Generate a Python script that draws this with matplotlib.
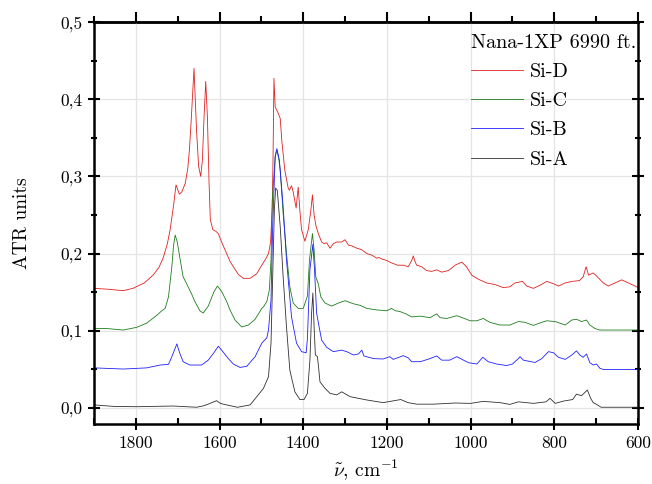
import matplotlib
matplotlib.use("Agg")
import matplotlib.pyplot as plt

plt.rcParams['font.family'] = 'cmr10'
plt.rcParams['mathtext.fontset'] = 'cm'
plt.rcParams['axes.unicode_minus'] = False
plt.rcParams['axes.formatter.use_mathtext'] = True

# Si-D (red)
wn_d = [1900, 1870, 1830, 1807, 1780, 1759, 1745, 1735, 1725, 1718, 1710, 1704, 1696, 1690, 1682,
        1676, 1672, 1668, 1665, 1661, 1658, 1655, 1650, 1645, 1641, 1637, 1633, 1629, 1625, 1622,
        1616, 1609, 1603, 1595, 1587, 1575, 1567, 1555, 1543, 1527, 1511, 1499, 1491, 1483, 1478,
        1474, 1472, 1470, 1467, 1460, 1455, 1451, 1444, 1436, 1433, 1428, 1424, 1417, 1412, 1408,
        1404, 1396, 1388, 1382, 1378, 1374, 1370, 1364, 1356, 1350, 1344, 1336, 1328, 1320, 1308,
        1300, 1292, 1284, 1272, 1260, 1248, 1236, 1224, 1220, 1212, 1200, 1189, 1175, 1161, 1149,
        1140, 1137, 1133, 1129, 1117, 1105, 1093, 1081, 1069, 1053, 1037, 1021, 1010, 997, 982,
        962, 942, 922, 906, 894, 876, 866, 850, 834, 818, 802, 790, 774, 758, 740,
        731, 724, 718, 707, 699, 683, 671, 655, 639, 623, 603, 600]
si_d = [0.155, 0.154, 0.152, 0.155, 0.162, 0.172, 0.182, 0.194, 0.212, 0.231, 0.262, 0.289, 0.277, 0.280, 0.291,
        0.310, 0.334, 0.370, 0.400, 0.440, 0.400, 0.360, 0.313, 0.300, 0.321, 0.377, 0.423, 0.377, 0.291, 0.244,
        0.231, 0.229, 0.226, 0.215, 0.205, 0.190, 0.183, 0.173, 0.168, 0.168, 0.174, 0.185, 0.192, 0.200, 0.215,
        0.260, 0.330, 0.427, 0.390, 0.382, 0.375, 0.345, 0.308, 0.285, 0.282, 0.288, 0.280, 0.259, 0.286, 0.256,
        0.231, 0.216, 0.231, 0.255, 0.276, 0.250, 0.237, 0.226, 0.215, 0.213, 0.214, 0.207, 0.213, 0.215, 0.215,
        0.218, 0.211, 0.210, 0.207, 0.205, 0.200, 0.198, 0.194, 0.195, 0.193, 0.191, 0.188, 0.185, 0.185, 0.183,
        0.192, 0.197, 0.190, 0.185, 0.183, 0.178, 0.177, 0.179, 0.176, 0.178, 0.185, 0.189, 0.183, 0.172, 0.167,
        0.162, 0.160, 0.156, 0.157, 0.162, 0.164, 0.158, 0.155, 0.159, 0.164, 0.161, 0.158, 0.162, 0.164, 0.165,
        0.170, 0.183, 0.172, 0.175, 0.171, 0.162, 0.158, 0.162, 0.166, 0.162, 0.157, 0.156]

# Si-C (green)
wn_c = [1900, 1870, 1830, 1798, 1774, 1750, 1738, 1730, 1722, 1714, 1710, 1706, 1701, 1694, 1687,
        1675, 1667, 1659, 1647, 1639, 1627, 1613, 1605, 1595, 1583, 1575, 1563, 1547, 1531, 1515,
        1499, 1495, 1487, 1481, 1477, 1474, 1467, 1463, 1458, 1455, 1448, 1440, 1432, 1424, 1412,
        1400, 1390, 1385, 1378, 1374, 1370, 1364, 1358, 1348, 1332, 1316, 1300, 1280, 1264, 1248,
        1224, 1200, 1189, 1180, 1169, 1155, 1141, 1120, 1097, 1081, 1073, 1057, 1033, 1015, 1001,
        985, 970, 954, 930, 906, 886, 870, 850, 830, 818, 798, 774, 758, 747, 735,
        723, 715, 703, 691, 600]
si_c = [0.103, 0.103, 0.101, 0.1045, 0.110, 0.120, 0.126, 0.129, 0.144, 0.183, 0.210, 0.224, 0.215, 0.192, 0.170,
        0.157, 0.148, 0.138, 0.126, 0.123, 0.132, 0.151, 0.158, 0.151, 0.138, 0.127, 0.114, 0.105, 0.1075, 0.115,
        0.129, 0.131, 0.138, 0.153, 0.192, 0.269, 0.326, 0.334, 0.321, 0.308, 0.252, 0.200, 0.157, 0.136, 0.129,
        0.129, 0.145, 0.192, 0.226, 0.205, 0.170, 0.161, 0.144, 0.136, 0.132, 0.136, 0.139, 0.135, 0.133, 0.129,
        0.127, 0.126, 0.129, 0.126, 0.125, 0.122, 0.118, 0.119, 0.117, 0.122, 0.117, 0.116, 0.1196, 0.116, 0.113,
        0.113, 0.116, 0.111, 0.1075, 0.1075, 0.112, 0.111, 0.107, 0.111, 0.113, 0.112, 0.1075, 0.114, 0.115, 0.112,
        0.114, 0.1075, 0.103, 0.101, 0.101]

# Si-B (blue)
wn_b = [1900, 1830, 1774, 1742, 1722, 1714, 1702, 1695, 1687, 1671, 1643, 1627, 1613, 1603, 1595,
        1579, 1567, 1551, 1535, 1515, 1499, 1487, 1483, 1477, 1473, 1467, 1463, 1457, 1448, 1440,
        1428, 1416, 1404, 1393, 1390, 1384, 1377, 1373, 1368, 1362, 1356, 1344, 1328, 1308, 1296,
        1280, 1268, 1260, 1255, 1232, 1209, 1193, 1185, 1161, 1149, 1141, 1120, 1097, 1081, 1069,
        1050, 1033, 1017, 1005, 985, 971, 958, 938, 914, 900, 886, 882, 874, 846, 830,
        814, 802, 790, 774, 758, 747, 739, 731, 723, 715, 707, 699, 691, 683, 600]
si_b = [0.052, 0.0505, 0.052, 0.0557, 0.0565, 0.0665, 0.083, 0.071, 0.060, 0.0557, 0.0557, 0.062, 0.072, 0.080, 0.075,
        0.064, 0.057, 0.0526, 0.054, 0.0665, 0.084, 0.091, 0.101, 0.140, 0.235, 0.326, 0.336, 0.321, 0.261, 0.192,
        0.118, 0.084, 0.073, 0.0716, 0.090, 0.179, 0.212, 0.179, 0.123, 0.105, 0.088, 0.0786, 0.073, 0.075, 0.073,
        0.0687, 0.070, 0.075, 0.0674, 0.064, 0.0635, 0.0665, 0.063, 0.0678, 0.065, 0.060, 0.060, 0.064, 0.0674, 0.062,
        0.062, 0.0665, 0.062, 0.0587, 0.057, 0.0657, 0.060, 0.057, 0.055, 0.057, 0.064, 0.0665, 0.062, 0.059, 0.064,
        0.073, 0.0716, 0.0657, 0.063, 0.0687, 0.074, 0.0687, 0.0657, 0.070, 0.0587, 0.0557, 0.057, 0.0514, 0.050, 0.050]

# Si-A (black)
wn_a = [1900, 1850, 1796, 1711, 1655, 1640, 1627, 1607, 1598, 1583, 1557, 1527, 1511, 1495, 1483,
        1477, 1473, 1469, 1466, 1462, 1455, 1448, 1440, 1432, 1420, 1408, 1398, 1390, 1384, 1380,
        1377, 1374, 1371, 1366, 1363, 1360, 1348, 1336, 1320, 1308, 1288, 1248, 1209, 1173, 1167,
        1150, 1129, 1089, 1037, 1000, 970, 930, 906, 886, 850, 820, 810, 798, 778, 756,
        747, 735, 721, 713, 707, 700, 688, 600]
si_a = [0.004, 0.002, 0.0017, 0.0026, 0.001, 0.0026, 0.005, 0.0095, 0.006, 0.004, 0.001, 0.004, 0.0147, 0.0255, 0.0405,
        0.084, 0.170, 0.256, 0.285, 0.282, 0.235, 0.170, 0.105, 0.049, 0.021, 0.011, 0.011, 0.019, 0.062, 0.123,
        0.149, 0.105, 0.0687, 0.0665, 0.051, 0.034, 0.0255, 0.019, 0.017, 0.021, 0.0147, 0.0104, 0.007, 0.0104, 0.011,
        0.007, 0.005, 0.005, 0.0065, 0.006, 0.0086, 0.007, 0.0047, 0.008, 0.006, 0.008, 0.0125, 0.006, 0.009, 0.011,
        0.018, 0.016, 0.0233, 0.0125, 0.007, 0.005, 0.001, 0.001]

yticks = [0.0, 0.1, 0.2, 0.3, 0.4, 0.5]
ytick_labels = ['0,0', '0,1', '0,2', '0,3', '0,4', '0,5']
xticks = [1800, 1600, 1400, 1200, 1000, 800, 600]

fig = plt.figure(figsize=(6.52, 4.84), dpi=100)
ax = fig.add_axes([94 / 652, 60 / 484, 544 / 652, 402 / 484])

ax.plot(wn_d, si_d, color='#e02020', lw=0.6, label='Si-D')
ax.plot(wn_c, si_c, color='#1e7d1e', lw=0.6, label='Si-C')
ax.plot(wn_b, si_b, color='#1f1fff', lw=0.6, label='Si-B')
ax.plot(wn_a, si_a, color='#303030', lw=0.6, label='Si-A')

ax.set_xlim(1900, 600)
ax.set_ylim(-0.0207, 0.5)
ax.set_xticks(xticks)
ax.set_xticklabels([str(t) for t in xticks])
ax.set_xticks(range(1900, 599, -100), minor=True)
ax.set_yticks(yticks)
ax.set_yticklabels(ytick_labels)
ax.set_yticks([0.05 * i for i in range(11)], minor=True)
ax.grid(True, which='major', color='#e4e4e4', lw=0.9)
ax.set_axisbelow(True)

for s in ax.spines.values():
    s.set_linewidth(1.8)
ax.tick_params(axis='x', which='major', direction='inout', length=9, width=1.5, labelsize=12.5, pad=4)
ax.tick_params(axis='x', which='minor', direction='in', length=4, width=1.5)
ax.tick_params(axis='y', which='major', direction='inout', length=9, width=1.5, labelsize=12.5,
               right=True, left=True)
ax.tick_params(axis='y', which='minor', direction='inout', length=5, width=1.5, right=True, left=True)

top = ax.secondary_xaxis('top')
top.set_xticks(xticks)
top.set_xticks(range(1900, 599, -100), minor=True)
top.tick_params(which='major', direction='out', length=7, width=1.5, labeltop=False)
top.tick_params(which='minor', direction='out', length=4, width=1.5)
top.spines['top'].set_linewidth(1.8)

ax.set_xlabel(r'$\tilde{\nu}$, cm$^{-1}$', fontsize=14, labelpad=5)
ax.set_ylabel('ATR units', fontsize=14, labelpad=21)

leg = ax.legend(title='Nana-1XP 6990 ft.', loc='upper right', bbox_to_anchor=(1.0, 1 - 10 / 402),
                frameon=False, fontsize=14.5, title_fontsize=14.5, handlelength=2.6,
                handletextpad=0.35, labelspacing=0.55, borderaxespad=0.0, borderpad=0.1)
leg._legend_box.align = 'left'

fig.savefig('out.png', dpi=100)
